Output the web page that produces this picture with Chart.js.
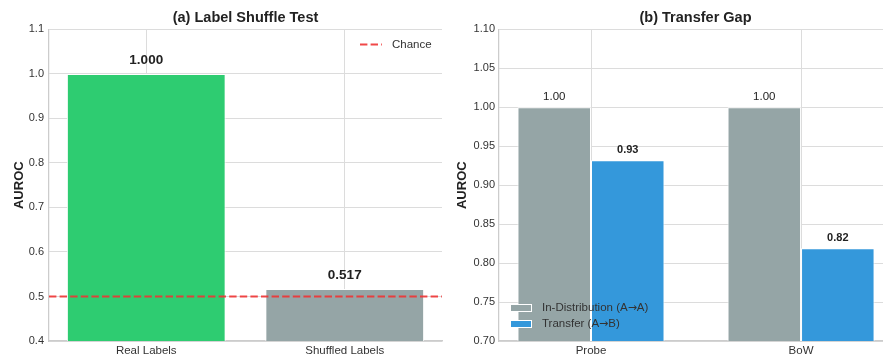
<!DOCTYPE html>
<html>
<head>
<meta charset="utf-8">
<script src="https://cdn.jsdelivr.net/npm/chart.js@4/dist/chart.umd.min.js"></script>
<style>
  html, body { margin: 0; padding: 0; background: #ffffff; }
  #wrap { position: relative; width: 883px; height: 356px; overflow: hidden; background: #ffffff; }
  #shuffle { position: absolute; left: 0; top: 0; }
  #transfer { position: absolute; left: 440px; top: 0; }
</style>
</head>
<body>
<div id="wrap">
  <canvas id="shuffle" width="450" height="356"></canvas>
  <canvas id="transfer" width="460" height="356"></canvas>
</div>
<script>
// Panel (a): label shuffle test
const shuffleCategories = ['Real Labels', 'Shuffled Labels'];
const shuffleAuroc = [1.000, 0.517];
const shuffleColors = ['#2ecc71', '#95a5a6'];
const chanceLevel = 0.5;
const shuffleYTicks = [0.4, 0.5, 0.6, 0.7, 0.8, 0.9, 1.0, 1.1];

// Panel (b): transfer gap
const transferCategories = ['Probe', 'BoW'];
const inDistAuroc = [1.00, 1.00];
const transferAuroc = [0.932, 0.819];
const transferYTicks = [0.70, 0.75, 0.80, 0.85, 0.90, 0.95, 1.00, 1.05, 1.10];

const FONT = 'Liberation Sans';
Chart.defaults.font.family = FONT;
Chart.defaults.color = '#333333';
Chart.defaults.animation = false;

const GRID = '#dcdcdc';
const SPINE = '#cccccc';

// Text above each bar, formatted from the bar's own value
const barValueLabels = {
  id: 'barValueLabels',
  afterDatasetsDraw(chart, args, opts) {
    const ctx = chart.ctx;
    chart.data.datasets.forEach((ds, di) => {
      if (ds.type === 'line') return;
      const meta = chart.getDatasetMeta(di);
      const style = (opts.styles || [])[di] || opts.styles[0];
      meta.data.forEach((bar, i) => {
        ctx.save();
        ctx.font = `${style.weight} ${style.size}px ${FONT}`;
        ctx.fillStyle = '#222222';
        ctx.textAlign = 'center';
        ctx.textBaseline = 'middle';
        ctx.fillText(ds.data[i].y.toFixed(style.digits), bar.x, bar.y - style.gap);
        ctx.restore();
      });
    });
  }
};

// Writes a legend label, using DejaVu Sans for the arrow glyph
function drawLabel(ctx, text, x, y) {
  const parts = text.split('\u2192');
  let cx = x;
  parts.forEach((p, i) => {
    ctx.font = `11.5px ${FONT}`;
    ctx.fillText(p, cx, y);
    cx += ctx.measureText(p).width;
    if (i < parts.length - 1) {
      ctx.font = `11px "DejaVu Sans"`;
      ctx.fillText('\u2192', cx, y);
      cx += ctx.measureText('\u2192').width;
    }
  });
}

// Legend drawn inside the plotting area
const inPlotLegend = {
  id: 'inPlotLegend',
  afterDraw(chart, args, opts) {
    const ctx = chart.ctx;
    const a = chart.chartArea;
    ctx.save();
    ctx.font = `11.5px ${FONT}`;
    ctx.fillStyle = '#333333';
    ctx.textBaseline = 'middle';
    ctx.textAlign = 'left';
    if (opts.mode === 'line') {
      const ds = chart.data.datasets.find(d => d.type === 'line');
      const x0 = a.right - 82, y = a.top + 15;
      ctx.strokeStyle = ds.borderColor;
      ctx.lineWidth = ds.borderWidth;
      ctx.setLineDash(ds.borderDash);
      ctx.beginPath();
      ctx.moveTo(x0, y);
      ctx.lineTo(x0 + 22, y);
      ctx.stroke();
      ctx.setLineDash([]);
      drawLabel(ctx, ds.label, x0 + 32, y);
    } else {
      const x0 = a.left + 11;
      chart.data.datasets.forEach((ds, i) => {
        const y = a.bottom - 33 + i * 16;
        ctx.fillStyle = ds.backgroundColor;
        ctx.fillRect(x0, y - 4, 22, 8);
        ctx.strokeStyle = '#ffffff';
        ctx.lineWidth = 1;
        ctx.strokeRect(x0 + 0.5, y - 3.5, 21, 7);
        ctx.fillStyle = '#333333';
        drawLabel(ctx, ds.label, x0 + 32, y);
      });
    }
    ctx.restore();
  }
};

function yAxis(ticks, digits, width, titlePad, tickPad, min, max) {
  return {
    type: 'linear', min, max,
    afterBuildTicks: s => { s.ticks = ticks.map(v => ({ value: v })); },
    afterFit: s => { s.width = width; },
    ticks: { callback: v => Number(v).toFixed(digits), font: { size: 11 }, color: '#333333', padding: tickPad },
    grid: { color: GRID, lineWidth: 1, drawTicks: false },
    border: { display: true, color: SPINE, width: 1.25 },
    title: { display: true, text: 'AUROC', font: { size: 13, weight: 'bold' }, color: '#222222', padding: { top: titlePad, bottom: 0 } }
  };
}

function xAxis(labels, min, max) {
  return {
    type: 'linear', min, max, offset: false,
    afterBuildTicks: s => { s.ticks = labels.map((_, i) => ({ value: i })); },
    afterFit: s => { s.height = 15; },
    ticks: { autoSkip: false, maxRotation: 0, callback: (v, i) => labels[i], font: { size: 11.5 }, color: '#333333', padding: 2.5 },
    grid: { color: GRID, lineWidth: 1, drawTicks: false, offset: false },
    border: { display: true, color: SPINE, width: 1.5 }
  };
}

function titleOpts(text) {
  return {
    display: true, text, fullSize: false,
    font: { size: 14.5, weight: 'bold' }, color: '#222222',
    padding: { top: 9, bottom: 3 }
  };
}

// (a) Label Shuffle Test
const shuffleX = [-0.49, 1.49];
new Chart(document.getElementById('shuffle'), {
  type: 'bar',
  data: {
    datasets: [
      {
        type: 'line',
        label: 'Chance',
        data: shuffleX.map(x => ({ x, y: chanceLevel })),
        borderColor: 'rgba(238, 52, 52, 0.9)',
        borderWidth: 2,
        borderDash: [7.4, 3.2],
        pointRadius: 0,
        order: 0
      },
      {
        type: 'bar',
        label: 'AUROC',
        data: shuffleAuroc.map((y, i) => ({ x: i, y })),
        backgroundColor: shuffleColors,
        borderColor: '#ffffff',
        borderWidth: 1,
        categoryPercentage: 0.8,
        barPercentage: 1.0,
        order: 1
      }
    ]
  },
  options: {
    responsive: false,
    layout: { padding: { left: 0, right: 8, top: 0, bottom: 0 } },
    scales: {
      x: xAxis(shuffleCategories, shuffleX[0], shuffleX[1]),
      y: yAxis(shuffleYTicks, 1, 49, 12, 5, 0.4, 1.1)
    },
    plugins: {
      legend: { display: false },
      tooltip: { enabled: false },
      title: titleOpts('(a) Label Shuffle Test'),
      barValueLabels: { styles: [null, { weight: 'bold', size: 13.5, digits: 3, gap: 14 }] },
      inPlotLegend: { mode: 'line' }
    }
  },
  plugins: [barValueLabels, inPlotLegend]
});

// (b) Transfer Gap
new Chart(document.getElementById('transfer'), {
  type: 'bar',
  data: {
    datasets: [
      {
        label: 'In-Distribution (A\u2192A)',
        data: inDistAuroc.map((y, i) => ({ x: i, y })),
        backgroundColor: '#95a5a6',
        borderColor: '#ffffff',
        borderWidth: 1,
        categoryPercentage: 0.7,
        barPercentage: 1.0
      },
      {
        label: 'Transfer (A\u2192B)',
        data: transferAuroc.map((y, i) => ({ x: i, y })),
        backgroundColor: '#3498db',
        borderColor: '#ffffff',
        borderWidth: 1,
        categoryPercentage: 0.7,
        barPercentage: 1.0
      }
    ]
  },
  options: {
    responsive: false,
    layout: { padding: { left: 0, right: 8, top: 0, bottom: 0 } },
    scales: {
      x: xAxis(transferCategories, -0.438, 1.433),
      y: yAxis(transferYTicks, 2, 59, 15, 4, 0.7, 1.1)
    },
    plugins: {
      legend: { display: false },
      tooltip: { enabled: false },
      title: titleOpts('(b) Transfer Gap'),
      barValueLabels: { styles: [
        { weight: 'normal', size: 11.5, digits: 2, gap: 10 },
        { weight: 'bold', size: 11, digits: 2, gap: 10 }
      ] },
      inPlotLegend: { mode: 'patch' }
    }
  },
  plugins: [barValueLabels, inPlotLegend]
});
</script>
</body>
</html>
